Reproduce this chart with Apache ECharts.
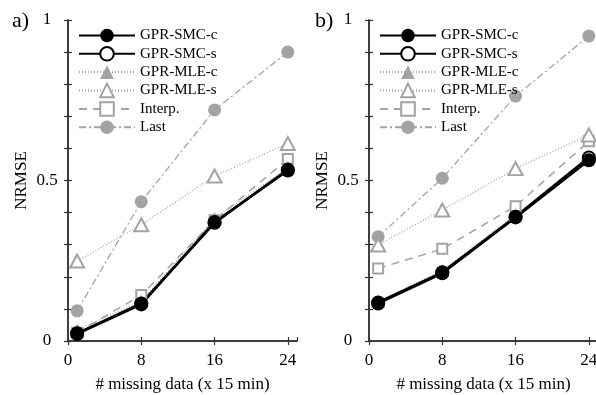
<!DOCTYPE html>
<html><head><meta charset="utf-8">
<script src="https://cdn.jsdelivr.net/npm/echarts@6/dist/echarts.min.js"></script>
<style>html,body{margin:0;padding:0;background:#fff}#c{width:596px;height:395px}</style>
</head><body><div id="c"></div>
<script>
// x positions (# missing data, x 15 min)
const xs = [1, 8, 16, 24];
const xTicks = [0, 8, 16, 24];
const yTickLabels = [0, 0.5, 1];
const names = ['GPR-SMC-c', 'GPR-SMC-s', 'GPR-MLE-c', 'GPR-MLE-s', 'Interp.', 'Last'];

// Panel a)
const smcC_a = [0.022, 0.114, 0.371, 0.531];
const smcS_a = [0.024, 0.117, 0.368, 0.534];
const mleC_a = [0.034, 0.124, 0.382, 0.540];
const mleS_a = [0.249, 0.362, 0.514, 0.615];
const interp_a = [0.026, 0.143, 0.376, 0.567];
const last_a = [0.094, 0.434, 0.720, 0.900];

// Panel b)
const smcC_b = [0.117, 0.211, 0.385, 0.563];
const smcS_b = [0.120, 0.214, 0.387, 0.572];
const mleC_b = [0.124, 0.220, 0.393, 0.575];
const mleS_b = [0.299, 0.408, 0.537, 0.642];
const interp_b = [0.226, 0.287, 0.420, 0.622];
const last_b = [0.325, 0.507, 0.763, 0.950];

const FONT = 'Liberation Serif';
const GREY = '#a3a3a3';
const AX = '#333333';

function pairs(v){ return xs.map((x,i)=>[x, v[i]]); }

function styleOf(name){
  switch(name){
    case 'GPR-SMC-c': return {symbol:'circle', symbolSize:14, color:'#000', lw:2.5, type:'solid'};
    case 'GPR-SMC-s': return {symbol:'emptyCircle', symbolSize:12, color:'#000', lw:2.5, type:'solid'};
    case 'GPR-MLE-c': return {symbol:'triangle', symbolSize:[14,13], color:GREY, lw:1.3, type:[1,2]};
    case 'GPR-MLE-s': return {symbol:'emptyTriangle', symbolSize:[14,13], color:GREY, lw:1.3, type:[1,2]};
    case 'Interp.': return {symbol:'emptyRect', symbolSize:10, color:GREY, lw:1.5, type:[8,6]};
    case 'Last': return {symbol:'circle', symbolSize:13, color:GREY, lw:1.3, type:[7,3,2,3]};
  }
}

function mkSeries(name, vals, gi){
  const s = styleOf(name);
  return {
    type:'line', name, xAxisIndex: gi*2, yAxisIndex: gi*2,
    data: pairs(vals), symbol: s.symbol, symbolSize: s.symbolSize,
    showAllSymbol: true, animation:false,
    lineStyle:{color:s.color, width:s.lw, type:s.type},
    itemStyle:{color:s.color, borderColor:s.color, borderWidth: s.symbol.indexOf('empty')===0 ? 1.5 : 0},
    z: 2
  };
}

const panels = [
  {left:68, sets:{'GPR-SMC-c':smcC_a,'GPR-SMC-s':smcS_a,'GPR-MLE-c':mleC_a,'GPR-MLE-s':mleS_a,'Interp.':interp_a,'Last':last_a}},
  {left:369, sets:{'GPR-SMC-c':smcC_b,'GPR-SMC-s':smcS_b,'GPR-MLE-c':mleC_b,'GPR-MLE-s':mleS_b,'Interp.':interp_b,'Last':last_b}}
];
const drawOrder = ['Last','Interp.','GPR-MLE-s','GPR-MLE-c','GPR-SMC-s','GPR-SMC-c'];

const grid=[], xAxis=[], yAxis=[], series=[], legend=[];
panels.forEach((p,gi)=>{
  grid.push({left:p.left, top:20, width:229, height:321, containLabel:false, outerBoundsMode:'none'});
  const axLine = {show:true, lineStyle:{color:AX, width:1.5}};
  const tick = {show:true, inside:true, length:4, lineStyle:{color:AX, width:1.2}};
  xAxis.push({type:'value', gridIndex:gi, min:0, max:25, interval:8, position:'bottom',
    axisLine:axLine, axisTick:tick, splitLine:{show:false},
    axisLabel:{fontFamily:FONT, fontSize:17, color:'#000', margin:11,
      formatter:v=> xTicks.indexOf(v)>=0 ? String(v) : ''},
    name:'# missing data (x 15 min)', nameLocation:'middle', nameGap:35,
    nameTextStyle:{fontFamily:FONT, fontSize:17, color:'#000'}});
  xAxis.push({type:'value', gridIndex:gi, min:0, max:25, interval:8, position:'top',
    axisLine:axLine, axisTick:{...tick, customValues: xTicks}, axisLabel:{show:false}, splitLine:{show:false}});
  yAxis.push({type:'value', gridIndex:gi, min:0, max:1, interval:0.1, position:'left',
    axisLine:axLine, axisTick:tick, splitLine:{show:false},
    axisLabel:{fontFamily:FONT, fontSize:17, color:'#000', margin:21, align:'center',
      formatter:v=>{ const r=Math.round(v*10)/10; return yTickLabels.indexOf(r)>=0 ? String(r) : ''; }},
    name:'NRMSE', nameLocation:'middle', nameGap:38,
    nameTextStyle:{fontFamily:FONT, fontSize:17, color:'#000'}});
  yAxis.push({type:'value', gridIndex:gi, min:0, max:1, interval:0.1, position:'right',
    axisLine:axLine, axisTick:tick, axisLabel:{show:false}, splitLine:{show:false}});
  drawOrder.forEach(n=>series.push(mkSeries(n, p.sets[n], gi)));
  legend.push({orient:'vertical', left:p.left+5, top:23, itemWidth:56, itemHeight:17, itemGap:3,
    data:names, selectedMode:false, textStyle:{fontFamily:FONT, fontSize:15, color:'#000'}});
});

const chart = echarts.init(document.getElementById('c'), null, {renderer:'canvas'});
chart.setOption({
  animation:false,
  backgroundColor:'#fff',
  title:[
    {text:'a)', left:7, top:5, textStyle:{fontFamily:FONT, fontSize:22, fontWeight:'normal', color:'#000'}},
    {text:'b)', left:310, top:5, textStyle:{fontFamily:FONT, fontSize:22, fontWeight:'normal', color:'#000'}}
  ],
  grid, xAxis, yAxis, series, legend
});
</script></body></html>
